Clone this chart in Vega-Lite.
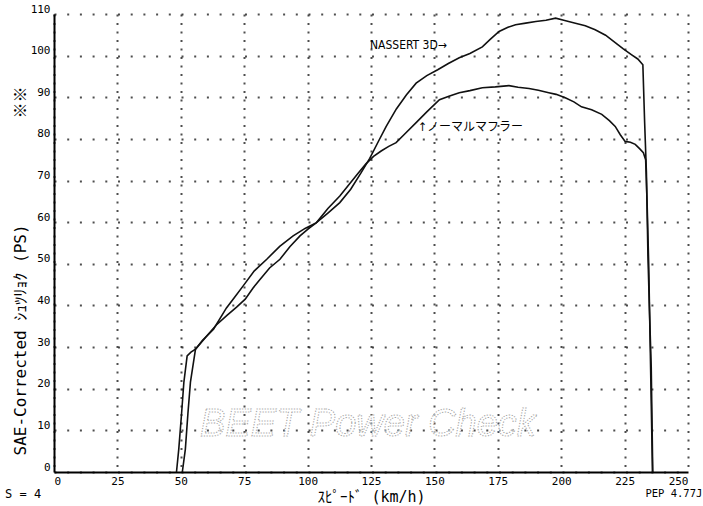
{
  "$schema": "https://vega.github.io/schema/vega-lite/v6.json",
  "width": 634,
  "height": 458,
  "autosize": {"type": "none"},
  "padding": {"left": 54, "top": 14, "right": 15, "bottom": 34},
  "background": "white",
  "config": {
    "view": {"stroke": null},
    "font": "DejaVu Sans Mono",
    "axis": {
      "domainColor": "#000",
      "domainWidth": 2,
      "ticks": false,
      "labelFont": "DejaVu Sans Mono",
      "labelFontSize": 11,
      "labelColor": "#000",
      "gridColor": "#222",
      "gridWidth": 2,
      "gridOpacity": 0.8,
      "titleFont": "DejaVu Sans Mono, Noto Sans CJK JP",
      "titleFontWeight": "normal",
      "titleColor": "#000"
    }
  },
  "layer": [
    {
      "data": {
        "values": [
          {"speed": 48.3, "ps": 0, "series": "NASSERT 3D"},
          {"speed": 49.2, "ps": 5.5, "series": "NASSERT 3D"},
          {"speed": 50.3, "ps": 14, "series": "NASSERT 3D"},
          {"speed": 51.2, "ps": 21.5, "series": "NASSERT 3D"},
          {"speed": 52.5, "ps": 27.9, "series": "NASSERT 3D"},
          {"speed": 54, "ps": 28.8, "series": "NASSERT 3D"},
          {"speed": 55.8, "ps": 29.5, "series": "NASSERT 3D"},
          {"speed": 58.5, "ps": 31.6, "series": "NASSERT 3D"},
          {"speed": 62.9, "ps": 34.3, "series": "NASSERT 3D"},
          {"speed": 68, "ps": 39.4, "series": "NASSERT 3D"},
          {"speed": 71, "ps": 41.8, "series": "NASSERT 3D"},
          {"speed": 74.6, "ps": 44.7, "series": "NASSERT 3D"},
          {"speed": 79, "ps": 48.3, "series": "NASSERT 3D"},
          {"speed": 83.9, "ps": 51.1, "series": "NASSERT 3D"},
          {"speed": 89, "ps": 54.2, "series": "NASSERT 3D"},
          {"speed": 94.3, "ps": 56.7, "series": "NASSERT 3D"},
          {"speed": 99, "ps": 58.5, "series": "NASSERT 3D"},
          {"speed": 103.5, "ps": 59.9, "series": "NASSERT 3D"},
          {"speed": 108, "ps": 62.2, "series": "NASSERT 3D"},
          {"speed": 112.7, "ps": 64.7, "series": "NASSERT 3D"},
          {"speed": 117, "ps": 67.9, "series": "NASSERT 3D"},
          {"speed": 121, "ps": 71.8, "series": "NASSERT 3D"},
          {"speed": 124.5, "ps": 75.3, "series": "NASSERT 3D"},
          {"speed": 128, "ps": 79.5, "series": "NASSERT 3D"},
          {"speed": 131, "ps": 83, "series": "NASSERT 3D"},
          {"speed": 135, "ps": 87.2, "series": "NASSERT 3D"},
          {"speed": 139, "ps": 90.6, "series": "NASSERT 3D"},
          {"speed": 142.8, "ps": 93.4, "series": "NASSERT 3D"},
          {"speed": 147, "ps": 95.2, "series": "NASSERT 3D"},
          {"speed": 151.3, "ps": 96.6, "series": "NASSERT 3D"},
          {"speed": 155.5, "ps": 98.1, "series": "NASSERT 3D"},
          {"speed": 159.8, "ps": 99.5, "series": "NASSERT 3D"},
          {"speed": 164, "ps": 100.5, "series": "NASSERT 3D"},
          {"speed": 168.9, "ps": 102.1, "series": "NASSERT 3D"},
          {"speed": 172, "ps": 103.9, "series": "NASSERT 3D"},
          {"speed": 175.5, "ps": 105.8, "series": "NASSERT 3D"},
          {"speed": 179, "ps": 106.8, "series": "NASSERT 3D"},
          {"speed": 182, "ps": 107.4, "series": "NASSERT 3D"},
          {"speed": 186, "ps": 107.8, "series": "NASSERT 3D"},
          {"speed": 190, "ps": 108.2, "series": "NASSERT 3D"},
          {"speed": 194, "ps": 108.5, "series": "NASSERT 3D"},
          {"speed": 197.8, "ps": 109, "series": "NASSERT 3D"},
          {"speed": 201, "ps": 108.5, "series": "NASSERT 3D"},
          {"speed": 205.6, "ps": 107.8, "series": "NASSERT 3D"},
          {"speed": 209.5, "ps": 107.2, "series": "NASSERT 3D"},
          {"speed": 213.4, "ps": 106.2, "series": "NASSERT 3D"},
          {"speed": 217.5, "ps": 104.9, "series": "NASSERT 3D"},
          {"speed": 221.3, "ps": 103.1, "series": "NASSERT 3D"},
          {"speed": 224.5, "ps": 101.6, "series": "NASSERT 3D"},
          {"speed": 227.8, "ps": 100.2, "series": "NASSERT 3D"},
          {"speed": 230.2, "ps": 99.2, "series": "NASSERT 3D"},
          {"speed": 232.2, "ps": 97.8, "series": "NASSERT 3D"},
          {"speed": 232.9, "ps": 84, "series": "NASSERT 3D"},
          {"speed": 233.6, "ps": 72, "series": "NASSERT 3D"},
          {"speed": 234.2, "ps": 52, "series": "NASSERT 3D"},
          {"speed": 234.8, "ps": 38.9, "series": "NASSERT 3D"},
          {"speed": 235.5, "ps": 25.2, "series": "NASSERT 3D"},
          {"speed": 236.1, "ps": 0, "series": "NASSERT 3D"},
          {"speed": 50.6, "ps": 0, "series": "Normal"},
          {"speed": 51.8, "ps": 5.5, "series": "Normal"},
          {"speed": 52.8, "ps": 14, "series": "Normal"},
          {"speed": 53.8, "ps": 21.6, "series": "Normal"},
          {"speed": 55.8, "ps": 29.5, "series": "Normal"},
          {"speed": 60, "ps": 32.5, "series": "Normal"},
          {"speed": 64, "ps": 35.3, "series": "Normal"},
          {"speed": 68.2, "ps": 37.6, "series": "Normal"},
          {"speed": 72, "ps": 39.6, "series": "Normal"},
          {"speed": 75.4, "ps": 41.5, "series": "Normal"},
          {"speed": 78.5, "ps": 44.2, "series": "Normal"},
          {"speed": 81.3, "ps": 46.3, "series": "Normal"},
          {"speed": 85, "ps": 49, "series": "Normal"},
          {"speed": 89.1, "ps": 51.1, "series": "Normal"},
          {"speed": 93, "ps": 54.1, "series": "Normal"},
          {"speed": 97, "ps": 56.7, "series": "Normal"},
          {"speed": 100.5, "ps": 58.5, "series": "Normal"},
          {"speed": 103.5, "ps": 59.9, "series": "Normal"},
          {"speed": 108, "ps": 63.3, "series": "Normal"},
          {"speed": 112.7, "ps": 66.3, "series": "Normal"},
          {"speed": 116.5, "ps": 69.2, "series": "Normal"},
          {"speed": 120, "ps": 71.8, "series": "Normal"},
          {"speed": 123, "ps": 74, "series": "Normal"},
          {"speed": 126, "ps": 75.8, "series": "Normal"},
          {"speed": 129, "ps": 77.1, "series": "Normal"},
          {"speed": 132, "ps": 78.2, "series": "Normal"},
          {"speed": 134.9, "ps": 79.1, "series": "Normal"},
          {"speed": 138, "ps": 81, "series": "Normal"},
          {"speed": 142.8, "ps": 83.9, "series": "Normal"},
          {"speed": 147, "ps": 86.5, "series": "Normal"},
          {"speed": 152, "ps": 89.4, "series": "Normal"},
          {"speed": 156, "ps": 90.3, "series": "Normal"},
          {"speed": 159.8, "ps": 91.1, "series": "Normal"},
          {"speed": 164, "ps": 91.6, "series": "Normal"},
          {"speed": 168.9, "ps": 92.3, "series": "Normal"},
          {"speed": 174, "ps": 92.5, "series": "Normal"},
          {"speed": 179.4, "ps": 92.8, "series": "Normal"},
          {"speed": 183, "ps": 92.4, "series": "Normal"},
          {"speed": 187.3, "ps": 92.1, "series": "Normal"},
          {"speed": 191, "ps": 91.7, "series": "Normal"},
          {"speed": 195.1, "ps": 91.1, "series": "Normal"},
          {"speed": 198, "ps": 90.7, "series": "Normal"},
          {"speed": 201.6, "ps": 89.9, "series": "Normal"},
          {"speed": 205, "ps": 88.9, "series": "Normal"},
          {"speed": 208, "ps": 87.7, "series": "Normal"},
          {"speed": 212, "ps": 87, "series": "Normal"},
          {"speed": 216, "ps": 85.9, "series": "Normal"},
          {"speed": 219, "ps": 84.4, "series": "Normal"},
          {"speed": 221.3, "ps": 83, "series": "Normal"},
          {"speed": 223.3, "ps": 81, "series": "Normal"},
          {"speed": 225.2, "ps": 79.4, "series": "Normal"},
          {"speed": 227.3, "ps": 79.2, "series": "Normal"},
          {"speed": 229.2, "ps": 78.7, "series": "Normal"},
          {"speed": 231, "ps": 77.6, "series": "Normal"},
          {"speed": 232.4, "ps": 76.7, "series": "Normal"},
          {"speed": 233.3, "ps": 75, "series": "Normal"},
          {"speed": 233.9, "ps": 64, "series": "Normal"},
          {"speed": 234.5, "ps": 50, "series": "Normal"},
          {"speed": 235.1, "ps": 30, "series": "Normal"},
          {"speed": 235.7, "ps": 10, "series": "Normal"},
          {"speed": 236.0, "ps": 0, "series": "Normal"}
        ]
      },
      "mark": {"type": "line", "color": "#111", "strokeWidth": 1.6, "clip": false},
      "encoding": {
        "x": {
          "field": "speed", "type": "quantitative",
          "scale": {"domain": [0, 250], "nice": false, "zero": false},
          "axis": {
            "values": [0, 25, 50, 75, 100, 125, 150, 175, 200, 225, 250],
            "labelPadding": 3,
            "labelBaseline": "top",
            "gridDash": [2, 6.5],
            "title": "ｽﾋﾟｰﾄﾞ (km/h)",
            "titleFontSize": 15,
            "titleBaseline": "middle",
            "titleY": 24
          }
        },
        "y": {
          "field": "ps", "type": "quantitative",
          "scale": {"domain": [0, 110], "nice": false},
          "axis": {
            "values": [0, 10, 20, 30, 40, 50, 60, 70, 80, 90, 100, 110],
            "labelPadding": 4,
            "labelOffset": -5,
            "gridDash": [2, 10.7],
            "title": "SAE-Corrected ｼｭﾂﾘｮｸ (PS)\u00a0\u00a0\u00a0\u00a0\u00a0\u00a0\u00a0\u00a0\u00a0\u00a0 ※※",
            "titleFontSize": 16,
            "titleAngle": -90,
            "titleAlign": "left",
            "titleBaseline": "middle",
            "titleX": -34,
            "titleY": 441
          }
        },
        "detail": {"field": "series", "type": "nominal"}
      }
    },
    {
      "data": {
        "values": [
          {"speed": 124.6, "ps": 102.5, "label": "NASSERT 3D→"},
          {"speed": 143.5, "ps": 82.9, "label": "↑ノーマルマフラー"}
        ]
      },
      "mark": {"type": "text", "align": "left", "baseline": "middle", "fontSize": 12, "font": "Liberation Sans Narrow, DejaVu Sans Condensed, Noto Sans CJK JP", "color": "#000"},
      "encoding": {
        "x": {"field": "speed", "type": "quantitative"},
        "y": {"field": "ps", "type": "quantitative"},
        "text": {"field": "label"}
      }
    },
    {
      "data": {"values": [{"speed": 123.8, "ps": 11.3, "label": "BEET Power Check"}]},
      "mark": {"type": "text", "align": "center", "baseline": "middle", "fontSize": 38, "font": "Liberation Sans", "fontStyle": "italic", "fill": "white", "fillOpacity": 0.6, "stroke": "#a0a0a0", "strokeWidth": 1, "strokeDash": [1.2, 1.5]},
      "encoding": {
        "x": {"field": "speed", "type": "quantitative"},
        "y": {"field": "ps", "type": "quantitative"},
        "text": {"field": "label"}
      }
    },
    {
      "data": {
        "values": [
          {"speed": -19.3, "ps": -5.3, "label": "S = 4", "size": "big"},
          {"speed": 233.2, "ps": -5.3, "label": "PEP 4.77J", "size": "small"}
        ]
      },
      "mark": {"type": "text", "align": "left", "baseline": "middle", "font": "DejaVu Sans Mono", "color": "#000"},
      "encoding": {
        "x": {"field": "speed", "type": "quantitative"},
        "y": {"field": "ps", "type": "quantitative"},
        "text": {"field": "label"},
        "size": {"field": "size", "type": "nominal", "scale": {"domain": ["big", "small"], "range": [12, 10.5]}, "legend": null}
      }
    }
  ]
}
